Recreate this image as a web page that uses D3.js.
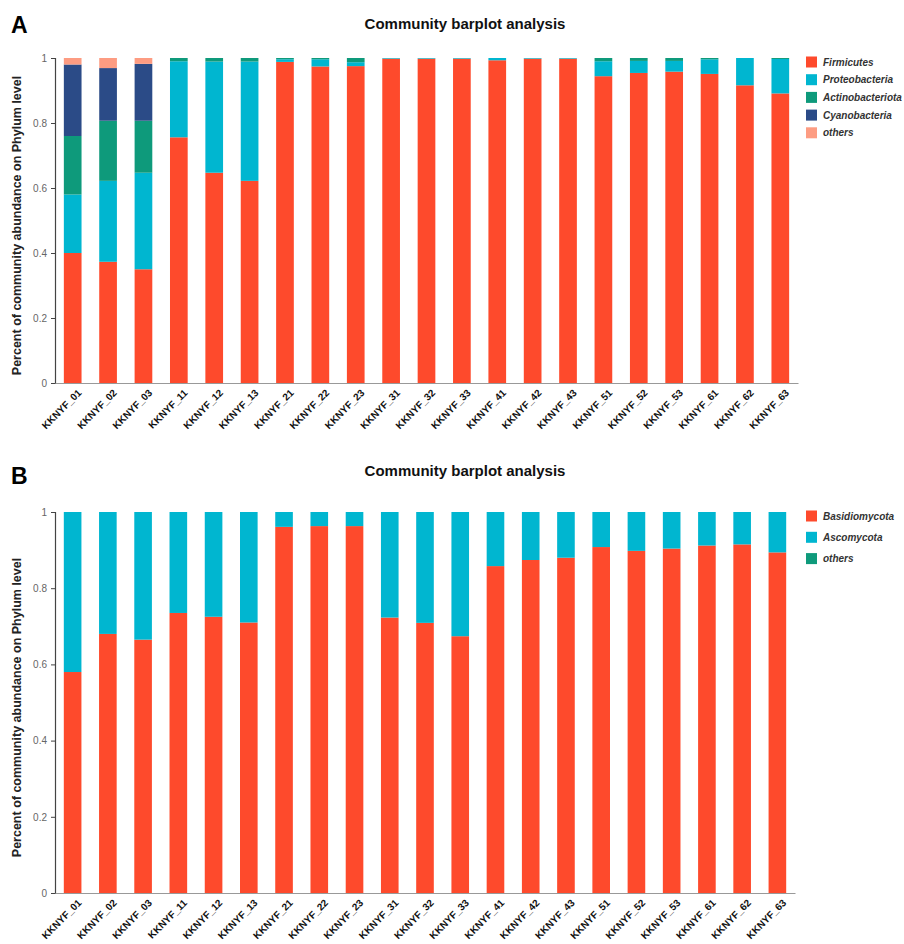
<!DOCTYPE html>
<html>
<head>
<meta charset="utf-8">
<script src="https://cdn.jsdelivr.net/npm/d3@7"></script>
<style>
  body { margin: 0; background: #fff; font-family: "Liberation Sans", Arial, sans-serif; }
</style>
</head>
<body>
<div id="chart"></div>
<script>
const samples = ["KKNYF_01", "KKNYF_02", "KKNYF_03", "KKNYF_11", "KKNYF_12", "KKNYF_13",
  "KKNYF_21", "KKNYF_22", "KKNYF_23", "KKNYF_31", "KKNYF_32", "KKNYF_33",
  "KKNYF_41", "KKNYF_42", "KKNYF_43", "KKNYF_51", "KKNYF_52", "KKNYF_53",
  "KKNYF_61", "KKNYF_62", "KKNYF_63"];

// panel A - bacteria
const firmicutes = [0.40, 0.373, 0.35, 0.756, 0.647, 0.622, 0.988, 0.974, 0.975, 0.998, 0.998,
  0.998, 0.993, 0.998, 0.998, 0.944, 0.954, 0.958, 0.951, 0.916, 0.891];
const proteobacteria = [0.18, 0.249, 0.297, 0.234, 0.342, 0.367, 0.008, 0.022, 0.012, 0.002, 0.002,
  0.002, 0.007, 0.002, 0.002, 0.046, 0.037, 0.033, 0.045, 0.084, 0.106];
const actinobacteriota = [0.18, 0.185, 0.16, 0.01, 0.011, 0.011, 0.004, 0.004, 0.013, 0, 0,
  0, 0, 0, 0, 0.01, 0.009, 0.009, 0.004, 0, 0.003];
const cyanobacteria = [0.22, 0.162, 0.175, 0, 0, 0, 0, 0, 0, 0, 0,
  0, 0, 0, 0, 0, 0, 0, 0, 0, 0];
const othersA = [0.02, 0.031, 0.018, 0, 0, 0, 0, 0, 0, 0, 0,
  0, 0, 0, 0, 0, 0, 0, 0, 0, 0];

// panel B - fungi
const basidiomycota = [0.58, 0.68, 0.665, 0.735, 0.725, 0.71, 0.961, 0.963, 0.963, 0.723, 0.709,
  0.674, 0.858, 0.874, 0.88, 0.908, 0.898, 0.904, 0.912, 0.915, 0.894];
const ascomycota = [0.42, 0.32, 0.335, 0.265, 0.275, 0.29, 0.039, 0.037, 0.037, 0.277, 0.291,
  0.326, 0.142, 0.126, 0.12, 0.092, 0.102, 0.096, 0.088, 0.085, 0.106];
const othersB = [0, 0, 0, 0, 0, 0, 0, 0, 0, 0, 0,
  0, 0, 0, 0, 0, 0, 0, 0, 0, 0];

const yTicks = [0, 0.2, 0.4, 0.6, 0.8, 1];

const colors = {
  Firmicutes: "#fe4a2c",
  Proteobacteria: "#00b6d0",
  Actinobacteriota: "#0e9a7b",
  Cyanobacteria: "#2b4b87",
  othersA: "#fd9c82",
  Basidiomycota: "#fe4a2c",
  Ascomycota: "#00b6d0",
  othersB: "#0e9a7b"
};

const panels = [
  {
    letter: "A",
    x0: 55, x1: 798, yTop: 58, yBottom: 383,
    series: [
      ["Firmicutes", "Firmicutes", firmicutes],
      ["Proteobacteria", "Proteobacteria", proteobacteria],
      ["Actinobacteriota", "Actinobacteriota", actinobacteriota],
      ["Cyanobacteria", "Cyanobacteria", cyanobacteria],
      ["othersA", "others", othersA]
    ],
    legendY: 62, legendStep: 17.7, titleY: 29, letterY: 33
  },
  {
    letter: "B",
    x0: 55, x1: 795, yTop: 512, yBottom: 893,
    series: [
      ["Basidiomycota", "Basidiomycota", basidiomycota],
      ["Ascomycota", "Ascomycota", ascomycota],
      ["othersB", "others", othersB]
    ],
    legendY: 516, legendStep: 21.3, titleY: 476, letterY: 484
  }
];

const svg = d3.select("#chart")
  .append("svg")
  .attr("width", 904)
  .attr("height", 944)
  .style("display", "block");

panels.forEach((p) => {
  const g = svg.append("g");

  const x = d3.scaleBand()
    .domain(samples)
    .range([p.x0, p.x1])
    .paddingInner(0.5)
    .paddingOuter(0.25);

  const y = d3.scaleLinear()
    .domain([0, 1])
    .range([p.yBottom, p.yTop]);

  // build table for stacking
  const keys = p.series.map((s) => s[0]);
  const rows = samples.map((name, i) => {
    const row = { sample: name };
    p.series.forEach((s) => { row[s[0]] = s[2][i]; });
    return row;
  });
  const stacked = d3.stack().keys(keys)(rows);

  g.selectAll(".layer")
    .data(stacked)
    .join("g")
    .attr("class", "layer")
    .attr("fill", (d) => colors[d.key])
    .selectAll("rect")
    .data((d) => d)
    .join("rect")
    .attr("x", (d) => x(d.data.sample))
    .attr("width", x.bandwidth())
    .attr("y", (d) => y(d[1]))
    .attr("height", (d) => Math.max(0, y(d[0]) - y(d[1])));

  // y axis
  const yAxis = g.append("g")
    .attr("transform", `translate(${p.x0}, 0)`)
    .call(d3.axisLeft(y).tickValues(yTicks).tickSize(4).tickPadding(4)
      .tickFormat((d) => (d === 0 || d === 1) ? String(d) : d3.format(".1f")(d)));
  yAxis.select(".domain").attr("stroke", "#444").attr("stroke-width", 1.2);
  yAxis.selectAll(".tick line").attr("stroke", "#444");
  yAxis.selectAll("text")
    .attr("fill", "#666")
    .style("font-size", "10px")
    .style("font-family", "Liberation Sans, Arial, sans-serif");

  // x axis
  const xAxis = g.append("g")
    .attr("transform", `translate(0, ${p.yBottom})`)
    .call(d3.axisBottom(x).tickSize(0).tickSizeOuter(0));
  xAxis.select(".domain").attr("stroke", "#999").attr("stroke-width", 1.2);
  xAxis.selectAll("text")
    .attr("x", 0)
    .attr("y", 0)
    .attr("dy", "0.35em")
    .attr("text-anchor", "end")
    .attr("transform", "translate(7, 8) rotate(-45)")
    .attr("fill", "#111")
    .style("font-size", "10px")
    .style("font-weight", "bold")
    .style("font-family", "Liberation Sans, Arial, sans-serif");

  // y axis label
  g.append("text")
    .attr("transform", `translate(21, ${(p.yTop + p.yBottom) / 2 + 5}) rotate(-90)`)
    .attr("text-anchor", "middle")
    .attr("fill", "#222")
    .style("font-size", "12.5px")
    .style("font-weight", "bold")
    .text("Percent of community abundance on Phylum level");

  // title
  g.append("text")
    .attr("x", 465)
    .attr("y", p.titleY)
    .attr("text-anchor", "middle")
    .attr("fill", "#111")
    .style("font-size", "15px")
    .style("font-weight", "bold")
    .text("Community barplot analysis");

  // panel letter
  g.append("text")
    .attr("x", 11)
    .attr("y", p.letterY)
    .attr("fill", "#000")
    .style("font-size", "23px")
    .style("font-weight", "bold")
    .text(p.letter);

  // legend
  const legend = g.selectAll(".legend")
    .data(p.series)
    .join("g")
    .attr("class", "legend")
    .attr("transform", (d, i) => `translate(806, ${p.legendY + i * p.legendStep})`);

  legend.append("rect")
    .attr("x", 0)
    .attr("y", -5.5)
    .attr("width", 11)
    .attr("height", 11)
    .attr("fill", (d) => colors[d[0]]);

  legend.append("text")
    .attr("x", 17)
    .attr("y", 0)
    .attr("dy", "0.35em")
    .attr("fill", "#333")
    .style("font-size", "10px")
    .style("font-weight", "bold")
    .style("font-style", "italic")
    .text((d) => d[1]);
});
</script>
</body>
</html>
